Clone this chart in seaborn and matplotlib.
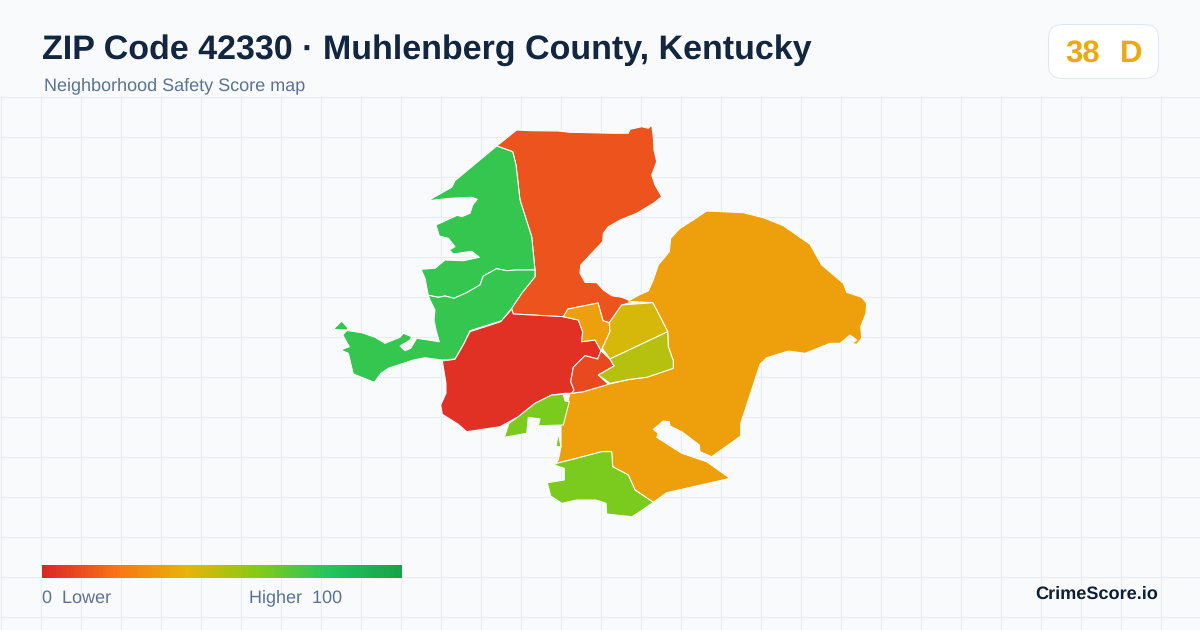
import matplotlib
import matplotlib.pyplot as plt
import numpy as np
import seaborn as sns
from matplotlib.colors import LinearSegmentedColormap, Normalize
from matplotlib.patches import FancyBboxPatch

matplotlib.use("Agg")

# map outlines in image pixels
north_red = [(496.7, 146), (516.7, 130), (530, 130.7), (558, 131), (570, 132.3), (613.3, 133.3), (628.3, 133.3),
             (630, 129.3), (641.7, 126.7), (648.3, 128.3), (651.7, 125), (653.3, 136.7), (654, 150), (656.7, 161.7),
             (651.7, 175), (655, 185), (661.7, 196.7), (653.3, 203.3), (636.7, 213.3), (620, 220), (608.3, 226.7),
             (603.3, 233.3), (602.7, 241.7), (590, 255), (580.7, 265), (580, 273.3), (585, 282.3), (596.7, 282.7),
             (603.3, 290), (611.7, 295.7), (621.7, 297.3), (633, 301.7), (621.7, 305), (609.3, 322.7), (603, 320.7),
             (598, 303), (568, 309), (563.3, 316.7), (513.3, 314), (511.7, 308.3), (521.7, 293.3), (535, 276.7),
             (535, 270), (531.7, 236.7), (520, 200), (516, 165), (512.7, 151.7)]
green_top = [(496.7, 146), (512.7, 151.7), (516, 165), (520, 200), (531.7, 236.7), (535, 270), (516.7, 270),
             (506.7, 270.7), (496.7, 268.7), (483.3, 276), (480, 285), (466.7, 292.7), (454, 298.3), (445, 296),
             (438.3, 297.3), (428.3, 295.3), (425, 278.3), (421, 269.3), (435, 268.3), (445, 260), (463.3, 260.7),
             (479.3, 257.3), (471.7, 251.3), (453.3, 254), (449.3, 250), (455, 246.7), (448.3, 238.3), (439.3, 236),
             (436, 225), (457.3, 215.3), (461.7, 216.7), (470, 213.3), (472.7, 205), (477.3, 199.3), (471.7, 197.3),
             (450, 198.3), (428.3, 200.7), (435, 196.7), (451.7, 187.3), (455, 180.7)]
green_low = [(535, 270), (535, 276.7), (521.7, 293.3), (511.7, 308.3), (501.7, 320.7), (470, 330.7), (464, 343.3),
             (455, 359), (441.7, 360), (425, 357.7), (413.3, 360), (388.3, 368.3), (381, 373.3), (374.3, 382.3),
             (353.3, 374), (348.3, 353.3), (340.7, 350), (349.3, 346.7), (342.7, 335), (347.3, 330), (333.3, 329.3),
             (341.7, 321), (347.3, 327.3), (348.3, 330.7), (361.7, 332.7), (375, 337.3), (385, 343.3), (400, 337.3),
             (403.3, 333.3), (411.7, 336.7), (410, 340), (400, 346), (405, 350.7), (410.7, 348.3), (416.7, 338.3),
             (439.3, 341.7), (436, 330), (434, 320), (435, 310), (430, 300), (428.3, 295.3), (438.3, 297.3),
             (445, 296), (454, 298.3), (466.7, 292.7), (480, 285), (483.3, 276), (496.7, 268.7), (506.7, 270.7),
             (516.7, 270)]
big_orange = [(628.3, 301), (640, 294.5), (648.3, 291), (653.3, 280), (658.3, 265), (669.3, 251.7), (670.7, 238.3),
              (680, 228.3), (693.3, 220), (706.7, 211), (743.3, 212.7), (763.3, 217.7), (783.3, 225.7), (810, 244.3),
              (821.7, 265), (843.3, 283.3), (846.7, 292.3), (861.7, 297.3), (866.7, 303.3), (866, 313.3),
              (860.7, 326.7), (861.7, 338.3), (856.7, 344.3), (852.3, 343.3), (856.7, 340), (850, 335), (840, 343.3),
              (830, 343.3), (805, 353.3), (788.3, 351), (766.7, 357.7), (760, 364.3), (740.7, 423.3), (740.7, 436),
              (711.7, 456.7), (700, 451.7), (699.3, 445), (681.7, 431.7), (670, 426), (669.3, 421.7), (663.3, 421),
              (653.3, 429.3), (658.3, 433.3), (656.7, 437.3), (681.7, 453.3), (706.7, 461.7), (730, 478.3),
              (666.7, 492.7), (653.3, 502.3), (635, 490), (628.3, 475), (612.7, 466.7), (611.7, 451.7), (601.7, 451.7),
              (576.7, 458.3), (556.7, 463.3), (554, 465), (558.3, 460), (561, 446.7), (561, 425), (565, 413.3),
              (570, 393.3), (571.7, 393.3), (583.3, 391.7), (608.3, 384.3), (630, 379.3), (646.7, 377.3),
              (673.3, 368.3), (673.3, 360.7), (668.3, 346.7), (667.7, 331.7), (656.7, 310), (652.7, 302.7), (633, 301.7)]
red_mid = [(511.7, 309.3), (500.7, 321.7), (470, 331.7), (463.3, 345), (455, 359.3), (442.3, 361), (446, 383.3),
           (446, 393.3), (440.7, 405), (442.3, 414.3), (458.3, 424.3), (466.7, 431.7), (500, 426.7), (518.3, 416.7),
           (535, 403.3), (551.7, 395), (565, 393.3), (571.7, 393.3), (574, 390), (570.7, 381.7), (573.3, 367.3),
           (585, 355.7), (597.7, 359), (601, 350.7), (595, 340), (581.7, 341.7), (582.7, 331.7), (578.3, 320),
           (563.3, 316.7), (513.3, 314)]
red_small = [(585, 355.7), (597.7, 359), (601, 350.7), (610, 359.3), (614, 366), (598.3, 375), (608.3, 384.3),
             (583.3, 391.7), (571.7, 393.3), (574, 390), (570.7, 381.7), (573.3, 367.3)]
orange_small = [(563.3, 316.7), (568, 309), (598, 303), (603, 320.7), (609.3, 322.7), (610, 331.7), (602.3, 348.3),
                (601, 350.7), (595, 340), (581.7, 341.7), (582.7, 331.7), (578.3, 320)]
yellow = [(621.7, 305), (652.7, 302.7), (656.7, 310), (667.7, 331.7), (610, 359), (602.3, 348.3), (610, 331.7),
          (609.3, 322.7)]
olive = [(667.7, 331.7), (668.3, 346.7), (673.3, 360.7), (673.3, 368.3), (646.7, 377.3), (630, 379.3), (610, 383.3),
         (598.3, 375), (614, 366), (610, 359)]
lime_south = [(556.7, 463.3), (576.7, 458.3), (601.7, 451.7), (611.7, 451.7), (612.7, 466.7), (628.3, 475),
              (635, 490), (653.3, 502.3), (640, 511.7), (631.7, 516.7), (606.7, 514), (606, 503.3), (596, 500),
              (576.7, 500), (561.7, 503.3), (550.7, 496), (547.3, 482.7), (564.3, 480), (564.3, 468.3), (554, 465)]
lime_north = [(509, 423.3), (518.3, 416.7), (535, 403.3), (551.7, 395), (563.3, 394.3), (565, 401), (569.3, 401.7),
              (563.3, 425), (538.3, 425.7), (540, 419), (528.3, 417.3), (526.7, 433.3), (504.3, 437.3)]
lime_sliver = [(558.3, 433.3), (561, 446.7), (556, 446.7)]

region_shapes = [north_red, green_top, green_low, big_orange, red_mid, red_small, orange_small, yellow, olive,
                 lime_south, lime_north, lime_sliver]
region_scores = [12, 76, 76, 34, 3, 9, 34, 44, 50, 62, 62, 62]

scale_stops = [0, 20, 40, 60, 80, 100]
scale_colors = ["#dc2626", "#f97316", "#eab308", "#84cc16", "#22c55e", "#16a34a"]
scale_values = np.arange(0, 101)

title = "ZIP Code 42330 · Muhlenberg County, Kentucky"
subtitle = "Neighborhood Safety Score map"
score_text = "38"
grade_text = "D"
brand = "CrimeScore.io"

sns.set_theme(style="white")
plt.rcParams["font.family"] = ["Liberation Sans", "DejaVu Sans"]
plt.rcParams["text.hinting"] = "no_hinting"

cmap = LinearSegmentedColormap.from_list("score", [(s / 100, c) for s, c in zip(scale_stops, scale_colors)])
norm = Normalize(0, 100)

bg = "#f8fafc"
fig = plt.figure(figsize=(12, 6.3), dpi=100, facecolor=bg)
ax = fig.add_axes([0, 0, 1, 1])
ax.set_xlim(0, 1200)
ax.set_ylim(630, 0)
ax.axis("off")

ax.vlines(np.arange(0, 1201, 40) + 0.5, 96, 630, color="#e7edf2", lw=0.75, zorder=1)
ax.hlines(np.arange(96, 630, 40) + 0.5, 0, 1200, color="#e7edf2", lw=0.75, zorder=1)

for shape, score in zip(region_shapes, region_scores):
    xs, ys = zip(*shape)
    ax.fill(xs, ys, facecolor=cmap(norm(score)), edgecolor="white", lw=0.75, joinstyle="round", zorder=2)

ax.text(42, 59, title, fontsize=24.5, fontweight="bold", color="#12263f", va="baseline")
ax.text(44, 90, subtitle, fontsize=12.95, color="#5b7290", va="baseline")

badge = FancyBboxPatch((1048.5, 24.5), 110, 54, boxstyle="round,pad=0,rounding_size=14", facecolor="white",
                       edgecolor="#e2e8f0", lw=0.75, zorder=3)
ax.add_patch(badge)
ax.text(1065.5, 62, score_text, fontsize=22.4, fontweight="bold", color="#eaaa10", va="baseline", zorder=4)
ax.text(1119.5, 62, grade_text, fontsize=22.4, fontweight="bold", color="#eaaa10", va="baseline", zorder=4)

ax.text(42, 602.5, "0  Lower", fontsize=12.95, color="#5b7290", va="baseline")
ax.text(249, 602.5, "Higher  100", fontsize=12.95, color="#5b7290", va="baseline")
ax.text(1158, 599, brand, fontsize=13.1, fontweight="bold", color="#0f1f33", ha="right", va="baseline")

bar_ax = fig.add_axes([42 / 1200, 1 - 578 / 630, 360 / 1200, 13 / 630])
sns.heatmap([scale_values], cmap=cmap, vmin=0, vmax=100, cbar=False, xticklabels=False, yticklabels=False, ax=bar_ax)

fig.savefig("out.png", dpi=100, facecolor=bg)
